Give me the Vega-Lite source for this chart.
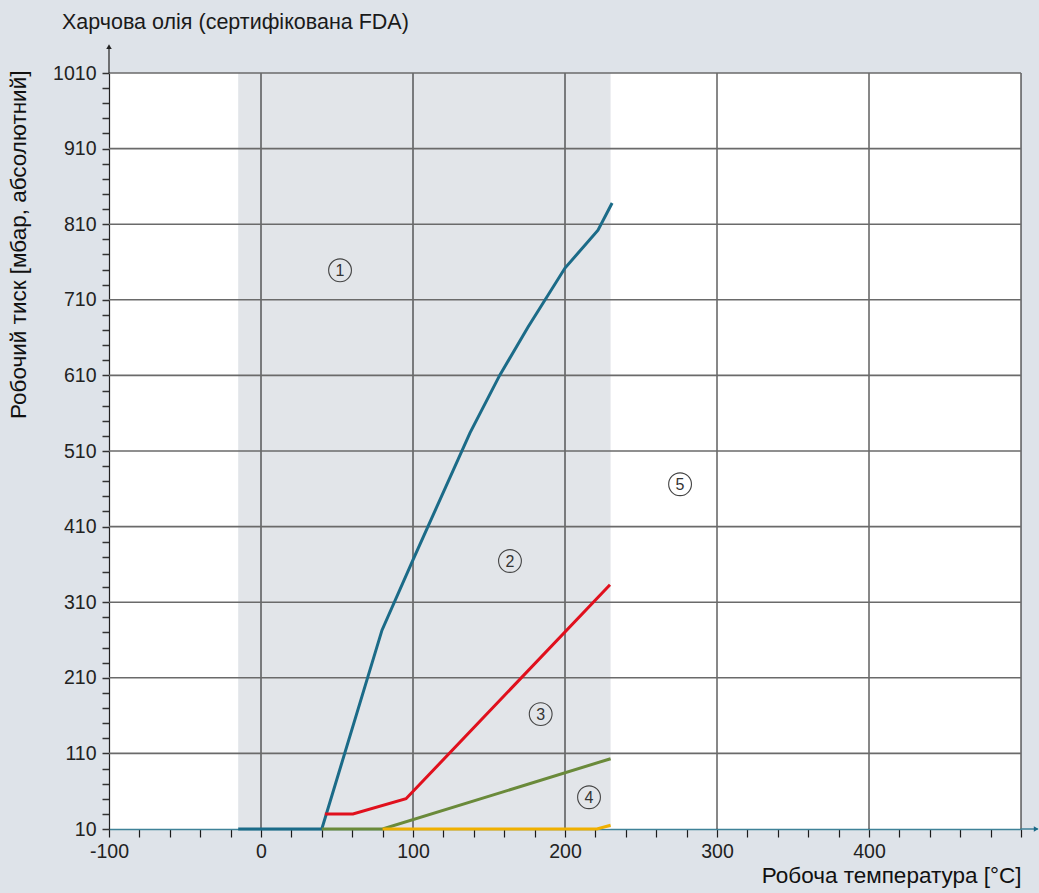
{
  "$schema": "https://vega.github.io/schema/vega-lite/v6.json",
  "width": 912,
  "height": 756,
  "autosize": {"type": "none"},
  "padding": {"left": 109, "top": 73, "right": 18, "bottom": 64},
  "background": "#dee3e9",
  "config": {"view": {"fill": "white", "stroke": null}, "font": "Liberation Sans", "axis": {"grid": false}},
  "title": {"text": "Харчова олія (сертифікована FDA)", "anchor": "start", "frame": "group", "dx": -47, "offset": 11, "fontSize": 21.5, "fontWeight": "normal", "color": "#1a1a1a", "font": "Liberation Sans"},
  "datasets": {
    "band": [{"t": -15, "t2": 230}],
    "vgrid": [{"t": 0}, {"t": 100}, {"t": 200}, {"t": 300}, {"t": 400}, {"t": 500}],
    "hgrid": [{"p": 110}, {"p": 210}, {"p": 310}, {"p": 410}, {"p": 510}, {"p": 610}, {"p": 710}, {"p": 810}, {"p": 910}, {"p": 1010}],
    "curves": [
      {"s": "blue", "i": 1, "t": -15, "p": 10},
      {"s": "blue", "i": 2, "t": 40, "p": 10},
      {"s": "blue", "i": 3, "t": 79.6, "p": 273},
      {"s": "blue", "i": 4, "t": 100, "p": 366},
      {"s": "blue", "i": 5, "t": 137.5, "p": 534},
      {"s": "blue", "i": 6, "t": 157, "p": 610},
      {"s": "blue", "i": 7, "t": 175.7, "p": 674},
      {"s": "blue", "i": 8, "t": 200, "p": 752},
      {"s": "blue", "i": 9, "t": 221.7, "p": 802},
      {"s": "blue", "i": 10, "t": 231, "p": 838},
      {"s": "red", "i": 1, "t": 42, "p": 30},
      {"s": "red", "i": 2, "t": 60.5, "p": 30},
      {"s": "red", "i": 3, "t": 95.4, "p": 50},
      {"s": "red", "i": 4, "t": 229.6, "p": 333},
      {"s": "green", "i": 1, "t": 40, "p": 10},
      {"s": "green", "i": 2, "t": 80, "p": 10},
      {"s": "green", "i": 3, "t": 230, "p": 103},
      {"s": "yellow", "i": 1, "t": 80, "p": 10},
      {"s": "yellow", "i": 2, "t": 221, "p": 10},
      {"s": "yellow", "i": 3, "t": 230, "p": 15}
    ],
    "labels": [
      {"n": "1", "t": 52, "p": 749},
      {"n": "2", "t": 163.8, "p": 364.5},
      {"n": "3", "t": 184, "p": 162},
      {"n": "4", "t": 215.8, "p": 52},
      {"n": "5", "t": 275.7, "p": 466}
    ],
    "yarrow": [{"t": -100, "p": 1010, "p2": 1044, "pa": 1045}],
    "xarrow": [{"t": 500, "t2": 511, "ta": 510, "p": 10}]
  },
  "layer": [
    {
      "data": {"name": "curves"},
      "mark": {"type": "line", "strokeWidth": 3, "clip": false, "opacity": 0},
      "encoding": {
        "x": {"field": "t", "type": "quantitative",
          "scale": {"domain": [-100, 500], "nice": false, "zero": false},
          "axis": {
            "values": [-100, -80, -60, -40, -20, 0, 20, 40, 60, 80, 100, 120, 140, 160, 180, 200, 220, 240, 260, 280, 300, 320, 340, 360, 380, 400, 420, 440, 460, 480, 500],
            "tickCount": 200,
            "labelExpr": "datum.value % 100 === 0 && datum.value < 500 ? '' + datum.value : ''",
            "labelOverlap": false, "labelFlush": false,
            "grid": false, "tickSize": 8, "tickColor": "#1a1a1a", "tickWidth": 1.2,
            "domainColor": "#3f8298", "domainWidth": 1.5,
            "labelFontSize": 19.5, "labelColor": "#222", "labelPadding": 5,
            "title": "Робоча температура [°C]", "titleAnchor": "end", "titleAlign": "right",
            "titleFontSize": 22.5, "titleFontWeight": "normal", "titleColor": "#111", "titlePadding": 4
          }
        },
        "y": {"field": "p", "type": "quantitative",
          "scale": {"domain": [10, 1010], "nice": false, "zero": false},
          "axis": {
            "values": [10, 30, 50, 70, 90, 110, 130, 150, 170, 190, 210, 230, 250, 270, 290, 310, 330, 350, 370, 390, 410, 430, 450, 470, 490, 510, 530, 550, 570, 590, 610, 630, 650, 670, 690, 710, 730, 750, 770, 790, 810, 830, 850, 870, 890, 910, 930, 950, 970, 990, 1010],
            "tickCount": 200,
            "labelExpr": "(datum.value - 10) % 100 === 0 ? '' + datum.value : ''",
            "labelOverlap": false, "labelFlush": false,
            "grid": false, "tickSize": 7, "tickColor": "#333", "tickWidth": 1.5,
            "domainColor": "#222", "domainWidth": 1.2,
            "labelFontSize": 19.5, "labelColor": "#222", "labelPadding": 6,
            "title": "Робочий тиск [мбар, абсолютний]", "titleAnchor": "end",
            "titleX": -91, "titleY": -3, "titleAngle": -90, "titleAlign": "right", "titleBaseline": "middle",
            "titleFontSize": 22.5, "titleFontWeight": "normal", "titleColor": "#111"
          }
        },
        "detail": {"field": "s"},
        "order": {"field": "i", "type": "quantitative"}
      }
    },
    {
      "data": {"name": "band"},
      "mark": {"type": "rect", "color": "#e2e5e9"},
      "encoding": {
        "x": {"field": "t", "type": "quantitative"},
        "x2": {"field": "t2"}
      }
    },
    {
      "data": {"name": "vgrid"},
      "mark": {"type": "rule", "color": "#111111", "strokeWidth": 1},
      "encoding": {"x": {"field": "t", "type": "quantitative"}}
    },
    {
      "data": {"name": "hgrid"},
      "mark": {"type": "rule", "color": "#6a6a6a", "strokeWidth": 1.6},
      "encoding": {"y": {"field": "p", "type": "quantitative"}}
    },
    {
      "data": {"name": "curves"},
      "mark": {"type": "line", "strokeWidth": 3, "clip": false},
      "encoding": {
        "x": {"field": "t", "type": "quantitative"},
        "y": {"field": "p", "type": "quantitative"},
        "color": {"field": "s", "type": "nominal", "scale": {"domain": ["blue", "red", "green", "yellow"], "range": ["#1b6b88", "#e0101d", "#6a8a3a", "#f0b000"]}, "legend": null},
        "order": {"field": "i", "type": "quantitative"}
      }
    },
    {
      "data": {"name": "yarrow"},
      "mark": {"type": "rule", "color": "#222", "strokeWidth": 1.2, "clip": false},
      "encoding": {"x": {"field": "t", "type": "quantitative"}, "y": {"field": "p", "type": "quantitative"}, "y2": {"field": "p2"}}
    },
    {
      "data": {"name": "yarrow"},
      "mark": {"type": "point", "shape": "triangle-up", "filled": true, "color": "#222", "size": 30, "opacity": 1, "clip": false},
      "encoding": {"x": {"field": "t", "type": "quantitative"}, "y": {"field": "pa", "type": "quantitative"}}
    },
    {
      "data": {"name": "xarrow"},
      "mark": {"type": "rule", "color": "#3f8298", "strokeWidth": 1.5, "clip": false},
      "encoding": {"x": {"field": "t", "type": "quantitative"}, "x2": {"field": "t2"}, "y": {"field": "p", "type": "quantitative"}}
    },
    {
      "data": {"name": "xarrow"},
      "mark": {"type": "point", "shape": "triangle-right", "filled": true, "color": "#1b6b88", "size": 30, "opacity": 1, "clip": false},
      "encoding": {"x": {"field": "ta", "type": "quantitative"}, "y": {"field": "p", "type": "quantitative"}}
    },
    {
      "data": {"name": "labels"},
      "mark": {"type": "point", "shape": "circle", "size": 520, "stroke": "#444", "strokeWidth": 1.1, "fillOpacity": 0, "opacity": 1},
      "encoding": {"x": {"field": "t", "type": "quantitative"}, "y": {"field": "p", "type": "quantitative"}}
    },
    {
      "data": {"name": "labels"},
      "mark": {"type": "text", "fontSize": 16, "color": "#333", "baseline": "middle", "align": "center", "dy": 1},
      "encoding": {"x": {"field": "t", "type": "quantitative"}, "y": {"field": "p", "type": "quantitative"}, "text": {"field": "n"}}
    }
  ]
}
